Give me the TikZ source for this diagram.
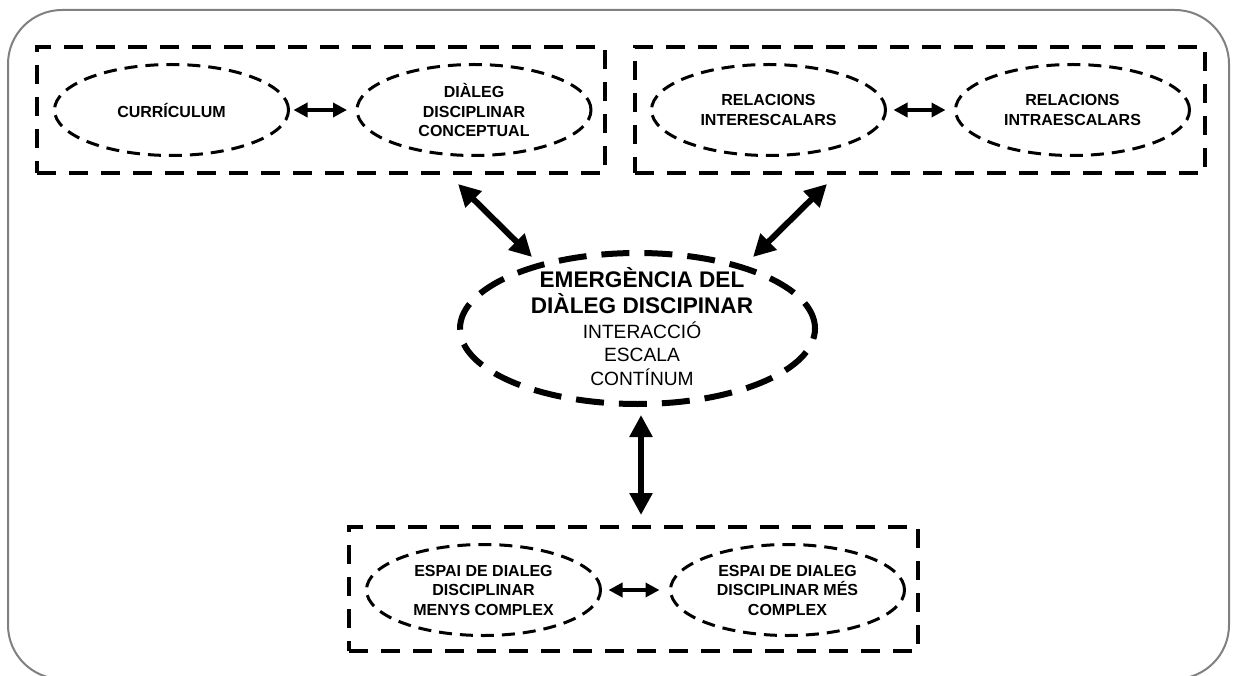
\documentclass[tikz,border=0pt]{standalone}
\usepackage{fontspec}
\setmainfont{Liberation Sans}
\usetikzlibrary{arrows.meta,shapes.geometric}
\definecolor{framegray}{HTML}{808080}
\begin{document}
\begin{tikzpicture}[x=1pt,y=-1pt,
  groupbox/.style={draw, rectangle, line width=4pt, dash pattern=on 19pt off 13pt, inner sep=0pt},
  topic/.style={ellipse, draw, line width=3pt, dash pattern=on 13pt off 8pt,
    minimum width=234pt, minimum height=91pt, inner sep=0pt, align=center,
    font=\fontsize{16}{19.5}\selectfont\bfseries},
  core/.style={ellipse, draw, line width=6pt, dash pattern=on 28pt off 15pt,
    minimum width=355pt, minimum height=151pt, inner sep=0pt},
  corehead/.style={anchor=base, inner sep=0pt, font=\fontsize{22.6}{26}\selectfont\bfseries},
  coreline/.style={anchor=base, inner sep=0pt, font=\fontsize{19.2}{24}\selectfont},
  link/.style={line width=3.5pt, {Triangle[length=14pt,width=14pt]}-{Triangle[length=14pt,width=14pt]}},
  bond/.style={line width=6pt, {Triangle[length=22pt,width=22pt]}-{Triangle[length=22pt,width=22pt]}}]

\useasboundingbox (0,0) rectangle (1233,676);

% outer frame
\draw[framegray, line width=2pt, rounded corners=54pt] (8,10) rectangle (1229,679);

% group boxes
\node[groupbox, minimum width=568pt, minimum height=126pt] (box1) at (321,110) {};
\node[groupbox, minimum width=570pt, minimum height=126pt] (box2) at (920,110) {};
\node[groupbox, minimum width=569pt, minimum height=124pt] (box3) at (633.5,589) {};

% topic ellipses
\node[topic] (curr) at (171.5,110) {CURRÍCULUM};
\node[topic] (dial) at (474,110) {DIÀLEG\\DISCIPLINAR\\CONCEPTUAL};
\node[topic] (inter) at (768.5,110) {RELACIONS\\INTERESCALARS};
\node[topic] (intra) at (1072.5,110) {RELACIONS\\INTRAESCALARS};
\node[topic] (less) at (483.5,590) {ESPAI DE DIALEG\\DISCIPLINAR\\MENYS COMPLEX};
\node[topic] (more) at (787.5,590) {ESPAI DE DIALEG\\DISCIPLINAR MÉS\\COMPLEX};

% central ellipse and its text
\node[core] (emer) at (637.5,328.5) {};
\node[corehead] (t1) at (642,287) {EMERGÈNCIA DEL};
\node[corehead] (t2) at (642,313) {DIÀLEG DISCIPINAR};
\node[coreline] (t3) at (642,338) {INTERACCIÓ};
\node[coreline] (t4) at (642,361.5) {ESCALA};
\node[coreline] (t5) at (642,385) {CONTÍNUM};

% links inside the groups
\draw[link] ([xshift=3.5pt]curr.east) -- ([xshift=-8.5pt]dial.west);
\draw[link] ([xshift=6.5pt]inter.east) -- ([xshift=-8.5pt]intra.west);
\draw[link] ([xshift=6.5pt]less.east) -- ([xshift=-9.5pt]more.west);

% links between the groups and the centre
\draw[bond] ([shift={(-149pt,-9pt)}]box1.south east) -- ([shift={(-105.5pt,71.5pt)}]emer.center);
\draw[bond] ([shift={(194pt,-9pt)}]box2.south west) -- ([shift={(115.5pt,71.5pt)}]emer.center);
\draw[bond] ([shift={(3.5pt,-8pt)}]emer.south) -- ([shift={(7.5pt,10pt)}]box3.north);

\end{tikzpicture}
\end{document}
